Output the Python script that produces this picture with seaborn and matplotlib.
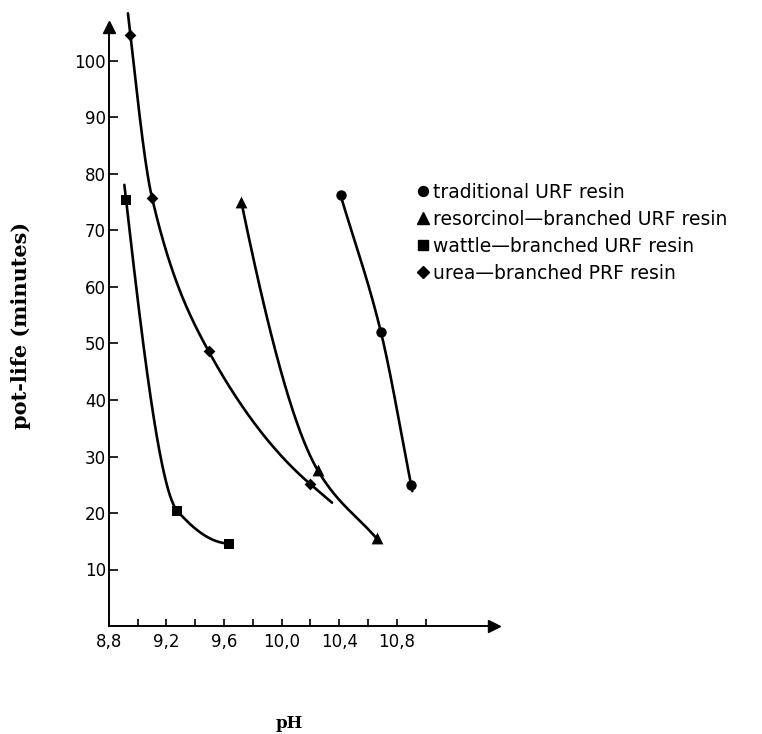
import numpy as np
import pandas as pd
import matplotlib
matplotlib.use("Agg")
import matplotlib.pyplot as plt
import seaborn as sns
from matplotlib.lines import Line2D
from matplotlib.ticker import FixedLocator, FixedFormatter

# ---------------- data ----------------
series = ["traditional URF resin",
          "resorcinol\u2014branched URF resin",
          "wattle\u2014branched URF resin",
          "urea\u2014branched PRF resin"]

trad_ph = [10.41, 10.69, 10.90]
trad_pl = [76.2, 52.0, 24.9]

reso_ph = [9.72, 10.25, 10.66]
reso_pl = [75.1, 27.6, 15.5]

wattle_ph = [8.92, 9.275, 9.638]
wattle_pl = [75.4, 20.4, 14.6]

urea_ph = [8.95, 9.10, 9.494, 10.20]
urea_pl = [104.6, 75.8, 48.6, 25.1]

x_major = [8.8, 9.2, 9.6, 10.0, 10.4, 10.8]
x_major_labels = ["8,8", "9,2", "9,6", "10,0", "10,4", "10,8"]
x_minor = [9.0, 9.4, 9.8, 10.2, 10.6, 11.0]
y_ticks = [10, 20, 30, 40, 50, 60, 70, 80, 90, 100]

# ---------------- styles ----------------
markers = {series[0]: "o", series[1]: "^", series[2]: "s", series[3]: "D"}
msizes = {series[0]: 7.5, series[1]: 8.5, series[2]: 7.0, series[3]: 6.0}
# small tangent extensions of the drawn curves beyond end markers (pH units)
ext = {series[0]: (0.0, 0.008), series[1]: (0.0, 0.0),
       series[2]: (0.012, 0.0), series[3]: (0.017, 0.15)}
# end-slope blend for the smooth curve (0 = 3-point estimate, 1 = end chord)
end_blend = {series[0]: (1.0, 1.0), series[1]: (0.0, 1.0),
             series[2]: (0.0, 0.0), series[3]: (0.0, 0.5)}

data = {series[0]: (trad_ph, trad_pl), series[1]: (reso_ph, reso_pl),
        series[2]: (wattle_ph, wattle_pl), series[3]: (urea_ph, urea_pl)}


def smooth_curve(x, y, xq, blend):
    """Monotone piecewise-cubic Hermite curve through the data points."""
    x = np.asarray(x, float)
    y = np.asarray(y, float)
    h = np.diff(x)
    d = np.diff(y) / h
    n = len(x)
    m = np.zeros(n)
    for k in range(1, n - 1):
        if d[k - 1] * d[k] > 0:
            w1 = 2 * h[k] + h[k - 1]
            w2 = h[k] + 2 * h[k - 1]
            m[k] = (w1 + w2) / (w1 / d[k - 1] + w2 / d[k])

    def end(h0, h1, d0, d1):
        mm = ((2 * h0 + h1) * d0 - h0 * d1) / (h0 + h1)
        if np.sign(mm) != np.sign(d0):
            mm = 0.0
        elif np.sign(d0) != np.sign(d1) and abs(mm) > abs(3 * d0):
            mm = 3 * d0
        return mm

    a0, a1 = blend
    m[0] = (1 - a0) * end(h[0], h[1], d[0], d[1]) + a0 * d[0]
    m[-1] = (1 - a1) * end(h[-1], h[-2], d[-1], d[-2]) + a1 * d[-1]
    xq = np.asarray(xq, float)
    i = np.clip(np.searchsorted(x, xq) - 1, 0, n - 2)
    t = (xq - x[i]) / h[i]
    h00 = 2 * t**3 - 3 * t**2 + 1
    h10 = t**3 - 2 * t**2 + t
    h01 = -2 * t**3 + 3 * t**2
    h11 = t**3 - t**2
    yq = h00 * y[i] + h10 * h[i] * m[i] + h01 * y[i + 1] + h11 * h[i] * m[i + 1]
    return yq, m


rows = []
for name, (xs, ys) in data.items():
    xq = np.linspace(xs[0], xs[-1], 400)
    yq, m = smooth_curve(xs, ys, xq, end_blend[name])
    e0, e1 = ext[name]
    cx = list(xq)
    cy = list(yq)
    if e0 > 0:
        cx = [xs[0] - e0] + cx
        cy = [ys[0] - m[0] * e0] + cy
    if e1 > 0:
        cx = cx + [xs[-1] + e1]
        cy = cy + [ys[-1] + m[-1] * e1]
    for a, b in zip(cx, cy):
        rows.append({"series": name, "pH": a, "pot": b})
curves = pd.DataFrame(rows)

# ---------------- figure ----------------
sns.set_style("ticks")
plt.rcParams["font.family"] = ["DejaVu Sans"]
plt.rcParams["text.color"] = "black"
plt.rcParams["axes.labelcolor"] = "black"
plt.rcParams["xtick.color"] = "black"
plt.rcParams["ytick.color"] = "black"

fig = plt.figure(figsize=(7.62, 7.34), dpi=100)
L, R, B, T = 108.8, 494.0, 626.0, 27.0
W, H = 762.0, 734.0
ax = fig.add_axes([L / W, 1 - B / H, (R - L) / W, (B - T) / H])

xscale = 144.0  # px per pH unit
yscale = 5.65   # px per minute
ax.set_xlim(8.8, 8.8 + (R - L) / xscale)
ax.set_ylim(0, (B - T) / yscale)

sns.lineplot(data=curves, x="pH", y="pot", units="series", estimator=None,
             sort=False, color="black", linewidth=1.9, ax=ax, legend=False)
for line in ax.get_lines():
    line.set_clip_on(False)

for name, (xs, ys) in data.items():
    sns.scatterplot(x=xs, y=ys, marker=markers[name], s=msizes[name] ** 2,
                    color="black", edgecolor="black", linewidth=0, ax=ax,
                    legend=False, clip_on=False, zorder=3)

sns.despine(ax=ax)
for sp in ("left", "bottom"):
    ax.spines[sp].set_linewidth(1.4)
    ax.spines[sp].set_color("black")

# axis arrows
ax.plot(1, 0, marker=">", color="black", ms=9, transform=ax.transAxes,
        clip_on=False)
ax.plot(0, 1, marker="^", color="black", ms=9, transform=ax.transAxes,
        clip_on=False)

ax.xaxis.set_major_locator(FixedLocator(x_major))
ax.xaxis.set_major_formatter(FixedFormatter(x_major_labels))
ax.xaxis.set_minor_locator(FixedLocator(x_minor))
ax.set_yticks(y_ticks)
ax.set_yticklabels([str(v) for v in y_ticks])
ax.tick_params(axis="x", which="both", direction="in", length=5, width=1.2,
               pad=5, labelsize=12, colors="black")
ax.tick_params(axis="y", which="both", direction="in", length=6.5, width=1.2,
               pad=2, labelsize=12, colors="black")
ax.set_xlabel("")
ax.set_ylabel("")

fig.text(21 / W, 1 - 325 / H, "pot-life (minutes)", rotation=90,
         ha="center", va="center", family="DejaVu Serif", weight="bold",
         fontsize=15, color="black")
fig.text(289 / W, 1 - 724 / H, "pH", ha="center", va="center",
         family="DejaVu Serif", weight="bold", fontsize=12, color="black")

handles = [Line2D([], [], linestyle="none", marker=markers[n], color="black",
                  markersize=msizes[n] * 0.95) for n in series]
fig.legend(handles, series, loc="upper left",
           bbox_to_anchor=(417 / W, 1 - 183 / H), frameon=False,
           fontsize=13.5, handlelength=0.6, handletextpad=0.25,
           labelspacing=0.42, borderpad=0, borderaxespad=0,
           labelcolor="black")

fig.savefig("out.png", dpi=100)
